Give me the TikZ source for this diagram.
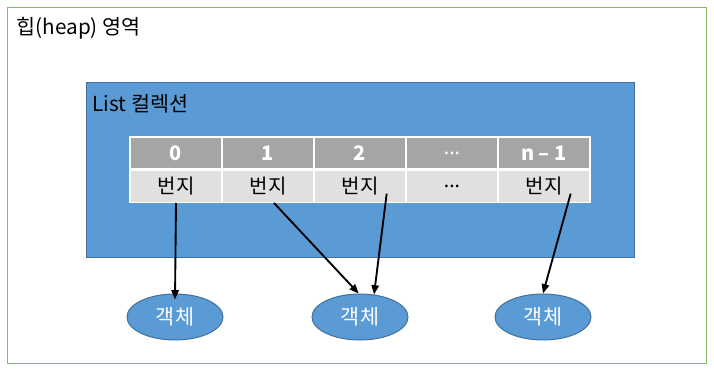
\documentclass[tikz,border=0pt]{standalone}
\usepackage{fontspec}
\setmainfont{Noto Sans CJK KR}
\newfontfamily\dotfont{Noto Sans}
\usetikzlibrary{arrows.meta,positioning,shapes.geometric}
\definecolor{heapgreen}{RGB}{130,190,95}
\definecolor{listblue}{RGB}{91,155,213}
\definecolor{listedge}{RGB}{65,113,156}
\definecolor{headgray}{RGB}{165,165,165}
\definecolor{cellgray}{RGB}{224,224,224}
\newcommand{\tdots}{{\dotfont ...}}

\begin{document}
\begin{tikzpicture}[x=0.75pt,y=-0.75pt,
  headcell/.style={draw=white,line width=1pt,fill=headgray,text=white,
    font=\bfseries\fontsize{15}{17}\selectfont,minimum width=69pt,minimum height=24pt,inner sep=0pt},
  bodycell/.style={headcell,fill=cellgray,text=black,font=\fontsize{15}{17}\selectfont},
  obj/.style={ellipse,draw=listedge,line width=0.75pt,fill=listblue,text=white,
    minimum width=72pt,minimum height=34.5pt,inner sep=0pt,font=\fontsize{15.5}{17}\selectfont},
  ptr/.style={line width=1.4pt,-{Triangle[length=7pt,width=5.5pt]}}]
  \useasboundingbox (0,0) rectangle (714,370);
  \draw[heapgreen,line width=0.75pt] (7,8) rectangle (706,363);
  \node[anchor=west,font=\fontsize{15.5}{18}\selectfont] (heap) at (12,28) {힙(heap) 영역};
  \draw[listedge,fill=listblue,line width=0.75pt] (86,83) rectangle (634,258);
  \node[anchor=west,font=\fontsize{15.5}{18}\selectfont] (list) at (88,104) {List 컬렉션};
  \foreach \i/\idx/\val in {0/0/번지,1/1/번지,2/2/번지,3/\tdots/\tdots,4/n – 1/번지} {
    \node[headcell] (h\i) at (176+92*\i,153) {\idx};
    \node[bodycell,below=0pt of h\i] (b\i) {\val};
  }
  \node[obj] (o1) at (175,317) {객체};
  \node[obj] (o2) at (360,317) {객체};
  \node[obj] (o3) at (543,317) {객체};
  \draw[ptr] (b0.south) -- ([yshift=-4.5pt]o1.north);
  \draw[ptr] ([xshift=4.5pt]b1.south) -- ([xshift=-1pt]o2.north);
  \draw[ptr] ([xshift=20pt,yshift=7pt]b2.south) -- (o2.58);
  \draw[ptr] ([xshift=20pt,yshift=7pt]b4.south) -- (o3.north);
\end{tikzpicture}
\end{document}
